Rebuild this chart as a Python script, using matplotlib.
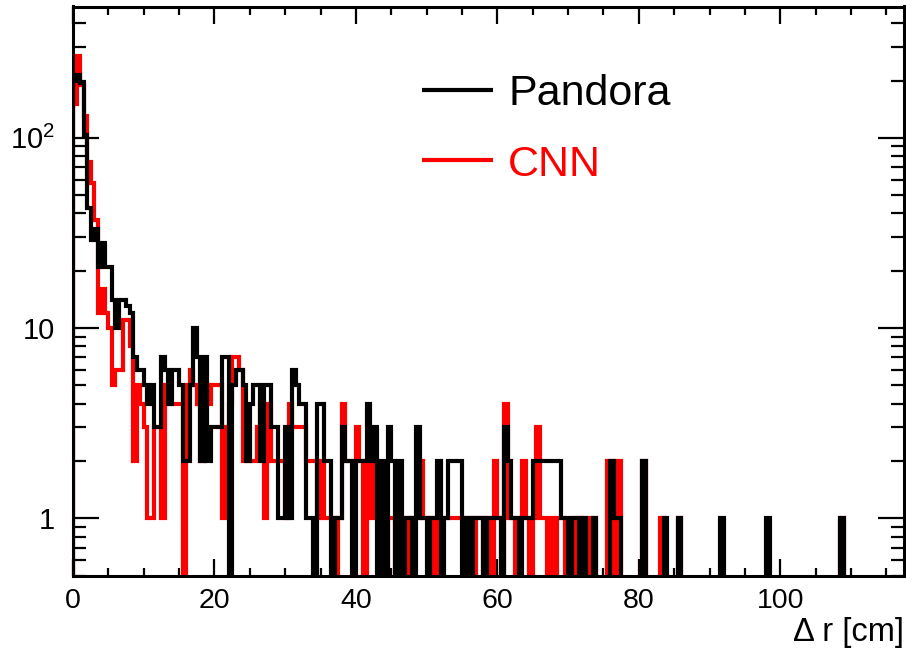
import numpy as np
import matplotlib
matplotlib.use("Agg")
import matplotlib.pyplot as plt
from matplotlib.lines import Line2D
from matplotlib.ticker import (FixedLocator, FixedFormatter, MultipleLocator,
                               LogLocator, NullFormatter)

plt.rcParams["font.family"] = ["Liberation Sans", "DejaVu Sans"]
plt.rcParams["mathtext.fontset"] = "custom"
plt.rcParams["mathtext.rm"] = "Liberation Sans"
plt.rcParams["mathtext.it"] = "Liberation Sans:italic"
plt.rcParams["mathtext.bf"] = "Liberation Sans:bold"

# ---- histogram data: 0.5 cm bins from 0 to 117.5 cm ----
bin_width = 0.5
x_max = 117.5

pandora_counts = np.array([
    200, 213, 194, 104, 43, 29, 33, 21, 28, 21,
    21, 14, 10, 14, 14, 13, 12, 7, 6, 6,
    5, 4, 5, 3, 3, 7, 6, 4, 6, 6,
    5, 2, 2, 5, 10, 7, 2, 7, 2, 3,
    3, 3, 7, 7, 0, 5, 6, 6, 5, 2,
    4, 5, 5, 2, 5, 5, 3, 3, 1, 1,
    3, 1, 6, 5, 4, 4, 1, 1, 0, 4,
    4, 2, 2, 0, 1, 1, 3, 2, 2, 0,
    2, 2, 2, 4, 2, 3, 0, 2, 0, 3,
    2, 0, 2, 0, 1, 1, 0, 3, 1, 1,
    0, 1, 1, 2, 0, 1, 2, 2, 2, 2,
    0, 1, 0, 1, 1, 1, 0, 1, 1, 1,
    1, 0, 3, 2, 1, 1, 0, 1, 1, 1,
    2, 2, 2, 2, 2, 2, 2, 2, 1, 1,
    0, 1, 1, 0, 1, 0, 0, 1, 0, 0,
    0, 0, 2, 1, 1, 0, 0, 0, 0, 0,
    0, 2, 0, 0, 0, 0, 0, 1, 0, 0,
    0, 1, 0, 0, 0, 0, 0, 0, 0, 0,
    0, 0, 0, 1, 0, 0, 0, 0, 0, 0,
    0, 0, 0, 0, 0, 0, 1, 0, 0, 0,
    0, 0, 0, 0, 0, 0, 0, 0, 0, 0,
    0, 0, 0, 0, 0, 0, 0, 1, 0, 0,
    0, 0, 0, 0, 0, 0, 0, 0, 0, 0,
    0, 0, 0, 0, 0,
])

cnn_counts = np.array([
    150, 270, 190, 130, 75, 58, 37, 12, 16, 12,
    10, 5, 6, 6, 11, 11, 8, 2, 5, 4,
    3, 1, 1, 3, 3, 1, 5, 4, 4, 4,
    4, 0, 5, 6, 5, 4, 2, 5, 4, 5,
    5, 5, 1, 3, 4, 7, 7, 6, 2, 2,
    2, 2, 3, 4, 1, 4, 2, 2, 2, 2,
    1, 4, 3, 3, 3, 3, 2, 2, 2, 1,
    2, 1, 1, 1, 0, 1, 4, 2, 2, 2,
    3, 2, 0, 2, 1, 2, 1, 1, 0, 1,
    1, 0, 1, 1, 1, 0, 1, 1, 2, 1,
    1, 0, 1, 0, 1, 1, 1, 1, 1, 1,
    1, 1, 1, 0, 1, 1, 0, 1, 0, 2,
    1, 0, 4, 1, 1, 0, 1, 2, 1, 0,
    1, 3, 1, 1, 0, 1, 0, 1, 1, 0,
    0, 0, 1, 1, 0, 0, 1, 1, 0, 0,
    0, 2, 2, 0, 2, 0, 0, 0, 0, 0,
    0, 2, 0, 0, 0, 0, 1, 0, 0, 0,
    0, 1, 0, 0, 0, 0, 0, 0, 0, 0,
    0, 0, 0, 0, 0, 0, 0, 0, 0, 0,
    0, 0, 0, 0, 0, 0, 0, 0, 0, 0,
    0, 0, 0, 0, 0, 0, 0, 0, 0, 0,
    0, 0, 0, 0, 0, 0, 0, 1, 0, 0,
    0, 0, 0, 0, 0, 0, 0, 0, 0, 0,
    0, 0, 0, 0, 0,
])

series_labels = ["Pandora", "CNN"]
series_colors = ["#000000", "#ff0000"]

y_tick_values = [1, 10, 100]
y_tick_labels = ["1", "10", "$10^{2}$"]
x_tick_values = [0, 20, 40, 60, 80, 100]
x_title = "\u0394 r [cm]"

edges = np.arange(0, x_max + bin_width / 2, bin_width)
assert len(edges) == len(pandora_counts) + 1 == len(cnn_counts) + 1

# ---- figure ----
W, H = 906, 652
fig = plt.figure(figsize=(W / 100, H / 100), dpi=100)
fig.patch.set_facecolor("white")
left_px, right_px, top_px, bottom_px = 73, 904, 6.5, 575.5
ax = fig.add_axes([left_px / W, (H - bottom_px) / H,
                   (right_px - left_px) / W, (bottom_px - top_px) / H])
ax.set_yscale("log")

floor = 1e-3


def draw_hist(counts, color, z):
    vals = np.where(counts > 0, counts, floor).astype(float)
    p = ax.stairs(vals, edges, baseline=floor, fill=False,
                  edgecolor=color, linewidth=3.0, zorder=z)
    p.set_joinstyle("miter")
    p.set_capstyle("butt")
    return p


draw_hist(cnn_counts, series_colors[1], 2)
draw_hist(pandora_counts, series_colors[0], 3)

ax.set_xlim(0, x_max)
ax.set_ylim(0.5, 490)

for sp in ax.spines.values():
    sp.set_linewidth(2.2)
    sp.set_zorder(5)

ax.xaxis.set_major_locator(FixedLocator(x_tick_values))
ax.xaxis.set_minor_locator(MultipleLocator(5))
ax.yaxis.set_major_locator(FixedLocator(y_tick_values))
ax.yaxis.set_major_formatter(FixedFormatter(y_tick_labels))
ax.yaxis.set_minor_locator(LogLocator(base=10, subs=np.arange(2, 10)))
ax.yaxis.set_minor_formatter(NullFormatter())

ax.tick_params(axis="x", which="major", direction="in", length=12, width=1.6,
               top=True, labelsize=20.5, pad=9)
ax.tick_params(axis="x", which="minor", direction="in", length=6, width=1.6,
               top=True)
ax.tick_params(axis="y", which="major", direction="in", length=19, width=1.6,
               right=True, labelsize=21, pad=13)
ax.tick_params(axis="y", which="minor", direction="in", length=9.5, width=1.6,
               right=True)

ax.set_xlabel(x_title, fontsize=23.5, loc="right")
ax.xaxis.label.set_verticalalignment("baseline")
ax.xaxis.set_label_coords(1.0, (bottom_px - 641) / (bottom_px - top_px))


# ---- legend ----
def ax_x(px):
    return (px - left_px) / (right_px - left_px)


def ax_y(py):
    return (bottom_px - py) / (bottom_px - top_px)


for label, color, line_y, base_y in zip(series_labels, series_colors,
                                         [90, 160], [105, 176.5]):
    ax.add_line(Line2D([ax_x(422), ax_x(493)], [ax_y(line_y)] * 2,
                       transform=ax.transAxes, color=color, linewidth=3.0,
                       solid_capstyle="butt", zorder=6))
    ax.text(ax_x(508), ax_y(base_y), label, transform=ax.transAxes,
            color=color, fontsize=31, ha="left", va="baseline", zorder=6)

fig.savefig("out.png", dpi=100, facecolor="white")
